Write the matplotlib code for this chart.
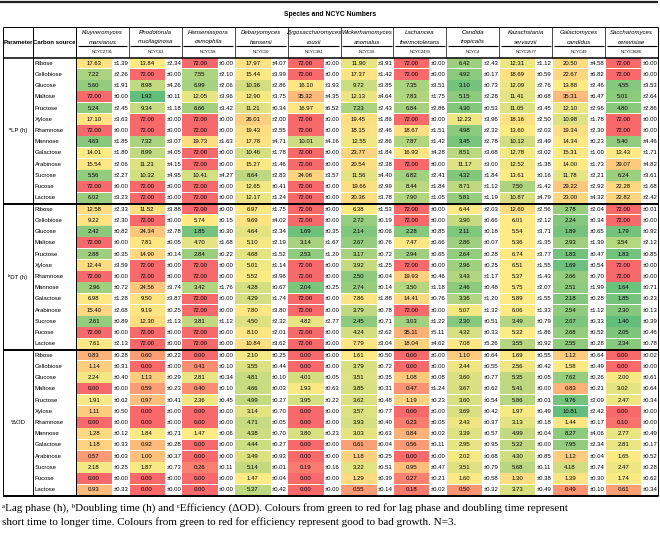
import numpy as np
import matplotlib
matplotlib.use('Agg')
import matplotlib.pyplot as plt
from matplotlib.patches import Rectangle
from matplotlib import font_manager

species = [('Kluyveromyces', 'marxianus'), ('Rhodotorula', 'mucilaginosa'),
           ('Hanseniaspora', 'osmophila'), ('Debaryomyces', 'hansenii'),
           ('Zygosaccharomyces', 'rouxii'), ('Wickerhamomyces', 'anomalus'),
           ('Lachancea', 'thermotolerans'), ('Candida', 'tropicalis'),
           ('Kazachstania', 'servazzii'), ('Galactomyces', 'candidus'),
           ('Saccharomyces', 'cerevisiae')]
ncyc = ['NCYC2791', 'NCYC63', 'NCYC58', 'NCYC10', 'NCYC381', 'NCYC16',
        'NCYC2433', 'NCYC4', 'NCYC2577', 'NCYC49', 'NCYC3686']
sugars = ['Ribose', 'Cellobiose', 'Glucose', 'Maltose', 'Fructose', 'Xylose',
          'Rhamnose', 'Mannose', 'Galactose', 'Arabinose', 'Sucrose', 'Fucose',
          'Lactose']
params = ['\u1d43LP (h)', '\u1d47DT (h)', '\u1d9c\u0394OD']

# lag phase (h)
LP_mean = [
    [17.63, 13.84, 72.00, 17.97, 72.00, 11.90, 72.00, 6.42, 12.31, 20.50, 72.00],
    [7.22, 72.00, 7.55, 15.44, 72.00, 17.37, 72.00, 4.92, 18.69, 22.67, 72.00],
    [5.60, 8.98, 6.99, 10.36, 16.10, 9.72, 7.35, 3.10, 12.09, 13.88, 4.55],
    [72.00, 1.92, 12.05, 12.90, 35.32, 12.13, 7.83, 5.15, 11.41, 35.31, 5.01],
    [5.24, 9.34, 6.66, 11.21, 16.97, 7.23, 6.84, 4.30, 11.05, 12.10, 4.80],
    [17.10, 72.00, 72.00, 26.01, 72.00, 19.45, 72.00, 12.23, 18.16, 10.98, 72.00],
    [72.00, 72.00, 72.00, 19.43, 72.00, 18.15, 18.67, 4.98, 13.60, 19.34, 72.00],
    [4.63, 7.32, 19.73, 17.78, 10.01, 12.55, 7.87, 3.45, 10.12, 14.34, 5.40],
    [14.01, 8.99, 72.00, 10.46, 72.00, 23.77, 16.93, 8.51, 12.78, 15.31, 13.43],
    [15.54, 11.23, 72.00, 15.27, 72.00, 20.54, 72.00, 11.17, 12.52, 14.00, 29.07],
    [5.56, 10.32, 10.41, 8.64, 24.06, 11.56, 6.82, 4.32, 13.61, 11.78, 6.24],
    [72.00, 72.00, 72.00, 12.65, 72.00, 19.66, 8.44, 8.71, 7.50, 29.22, 22.28],
    [6.02, 72.00, 72.00, 12.17, 72.00, 20.36, 7.90, 5.81, 10.87, 23.00, 22.82],
]
LP_sd = [
    [1.39, 2.34, 0.00, 4.07, 0.00, 3.91, 0.00, 2.43, 1.12, 4.58, 0.00],
    [2.26, 0.00, 2.10, 3.99, 0.00, 1.42, 0.00, 0.17, 0.59, 6.82, 0.00],
    [1.91, 4.26, 2.06, 2.86, 3.93, 3.85, 3.51, 0.73, 2.76, 2.46, 3.53],
    [0.00, 0.11, 3.96, 3.75, 4.35, 4.64, 1.75, 2.28, 0.68, 6.47, 2.64],
    [2.45, 1.18, 3.42, 0.34, 6.52, 2.43, 2.86, 0.53, 3.45, 2.96, 2.86],
    [3.63, 0.00, 0.00, 2.00, 0.00, 1.86, 0.00, 3.96, 2.50, 1.78, 0.00],
    [0.00, 0.00, 0.00, 2.55, 0.00, 2.46, 1.51, 2.32, 2.02, 2.30, 0.00],
    [1.85, 3.07, 1.63, 4.71, 4.16, 2.86, 1.42, 2.78, 3.49, 0.23, 4.46],
    [1.80, 4.05, 0.00, 1.78, 0.00, 1.84, 4.28, 3.68, 3.02, 1.00, 1.71],
    [2.06, 4.15, 0.00, 1.46, 0.00, 2.38, 0.00, 3.00, 1.38, 1.73, 4.82],
    [2.27, 4.95, 4.27, 2.83, 3.57, 4.40, 2.41, 1.84, 0.16, 2.21, 3.61],
    [0.00, 0.00, 0.00, 0.41, 0.00, 2.99, 1.84, 1.12, 1.42, 2.92, 1.68],
    [3.23, 0.00, 0.00, 1.24, 0.00, 3.78, 1.05, 1.19, 4.79, 4.32, 2.42],
]
# doubling time (h)
DT_mean = [
    [12.58, 11.52, 72.00, 6.97, 72.00, 6.38, 72.00, 6.44, 12.60, 2.78, 72.00],
    [9.22, 72.00, 5.74, 9.69, 72.00, 2.72, 72.00, 3.90, 6.01, 2.24, 72.00],
    [2.42, 24.34, 1.85, 4.64, 1.69, 2.14, 2.28, 2.11, 5.54, 1.89, 1.79],
    [72.00, 7.81, 4.70, 5.10, 3.14, 2.67, 7.47, 2.86, 5.36, 2.93, 3.54],
    [2.88, 14.90, 2.84, 4.68, 2.53, 3.17, 2.94, 2.64, 6.74, 1.83, 1.83],
    [12.44, 72.00, 72.00, 5.01, 72.00, 3.92, 72.00, 2.96, 6.51, 1.69, 72.00],
    [72.00, 72.00, 72.00, 5.52, 72.00, 2.50, 19.93, 3.43, 5.37, 2.66, 72.00],
    [2.96, 24.56, 3.42, 4.28, 2.04, 2.74, 3.50, 2.46, 5.75, 2.51, 1.64],
    [6.98, 9.50, 72.00, 4.29, 72.00, 7.86, 14.41, 3.36, 5.89, 2.18, 1.85],
    [15.40, 9.19, 72.00, 7.80, 72.00, 3.79, 72.00, 5.07, 6.06, 2.54, 2.30],
    [2.61, 12.30, 3.81, 4.50, 4.82, 2.45, 3.03, 2.30, 3.49, 2.07, 1.40],
    [72.00, 72.00, 72.00, 8.10, 72.00, 4.24, 35.11, 4.32, 5.32, 2.68, 2.05],
    [7.61, 72.00, 72.00, 10.84, 72.00, 7.79, 18.04, 7.08, 3.55, 2.55, 2.34],
]
DT_sd = [
    [2.33, 3.88, 0.00, 1.75, 0.00, 1.53, 0.00, 2.03, 2.56, 2.04, 0.01],
    [2.30, 0.00, 0.15, 4.02, 0.00, 0.19, 0.00, 0.66, 2.12, 0.34, 0.00],
    [0.82, 2.78, 0.30, 2.34, 0.35, 0.06, 0.85, 0.18, 3.71, 0.65, 0.92],
    [0.00, 0.05, 1.68, 2.19, 1.67, 0.76, 0.66, 0.07, 1.35, 1.39, 2.12],
    [0.35, 0.14, 0.22, 1.52, 1.20, 0.72, 0.65, 0.28, 3.77, 0.47, 0.85],
    [3.59, 0.00, 0.00, 1.14, 0.00, 1.25, 0.00, 0.25, 1.55, 0.54, 0.00],
    [0.00, 0.00, 0.00, 3.96, 0.00, 0.04, 0.46, 1.17, 1.43, 0.70, 0.00],
    [0.72, 3.74, 1.76, 0.67, 0.25, 0.14, 1.18, 0.48, 2.07, 1.99, 0.71],
    [1.28, 3.87, 0.00, 1.74, 0.00, 1.88, 0.76, 1.20, 1.55, 0.28, 0.23],
    [2.68, 0.25, 0.00, 3.80, 0.00, 0.78, 0.00, 1.32, 1.33, 1.12, 0.13],
    [0.89, 1.13, 1.12, 2.32, 2.77, 0.71, 1.22, 0.51, 0.79, 0.33, 0.39],
    [0.00, 0.00, 0.00, 2.01, 0.00, 2.62, 5.11, 0.33, 1.86, 0.52, 0.46],
    [2.13, 0.00, 0.00, 3.62, 0.00, 3.04, 4.62, 5.26, 0.92, 0.28, 0.78],
]
# efficiency (delta OD)
OD_mean = [
    [0.83, 0.60, 0.00, 2.10, 0.00, 1.61, 0.00, 1.10, 1.69, 1.12, 0.00],
    [1.14, 0.00, 0.41, 3.55, 0.00, 3.79, 0.00, 2.44, 2.56, 1.58, 0.00],
    [2.24, 1.13, 2.81, 4.81, 4.01, 3.51, 1.08, 3.60, 5.35, 7.62, 2.00],
    [0.00, 0.59, 0.40, 4.66, 1.93, 3.85, 0.47, 3.67, 5.41, 0.83, 3.02],
    [1.91, 0.97, 2.36, 4.99, 3.95, 3.62, 1.19, 3.60, 5.86, 9.76, 2.47],
    [1.11, 0.00, 0.00, 3.14, 0.00, 3.57, 0.00, 3.69, 1.97, 10.81, 0.00],
    [0.00, 0.00, 0.00, 4.71, 0.00, 3.93, 0.23, 2.43, 3.13, 1.44, 0.10],
    [1.28, 1.84, 1.47, 4.38, 3.80, 3.03, 0.84, 3.39, 4.99, 8.27, 2.77],
    [1.18, 0.92, 0.00, 4.44, 0.00, 0.61, 0.56, 2.95, 5.32, 7.95, 2.81],
    [0.57, 1.00, 0.00, 3.49, 0.00, 1.18, 0.00, 2.02, 4.30, 1.12, 1.65],
    [2.18, 1.87, 0.26, 5.14, 0.19, 3.22, 0.95, 3.51, 5.68, 4.18, 2.47],
    [0.00, 0.00, 0.00, 1.47, 0.00, 1.29, 0.27, 1.60, 1.30, 1.39, 1.74],
    [0.93, 0.00, 0.00, 5.37, 0.00, 0.55, 0.18, 0.50, 3.73, 0.49, 0.61],
]
OD_sd = [
    [0.28, 0.22, 0.00, 0.25, 0.00, 0.50, 0.00, 0.64, 0.55, 0.64, 0.02],
    [0.31, 0.00, 0.10, 0.44, 0.00, 0.72, 0.00, 0.55, 0.42, 0.49, 0.00],
    [0.40, 0.29, 0.34, 0.10, 0.05, 0.35, 0.08, 0.77, 0.05, 0.26, 0.61],
    [0.00, 0.23, 0.10, 0.03, 0.63, 0.31, 1.24, 0.62, 0.00, 0.21, 0.64],
    [0.62, 0.41, 0.45, 0.27, 0.22, 0.48, 0.23, 0.54, 0.01, 2.09, 0.34],
    [0.50, 0.00, 0.00, 0.70, 0.00, 0.77, 0.00, 0.42, 0.49, 2.42, 0.00],
    [0.00, 0.00, 0.00, 0.05, 0.00, 0.40, 0.05, 0.37, 0.18, 0.17, 0.00],
    [0.12, 0.71, 0.06, 0.70, 0.23, 0.63, 0.02, 0.57, 0.04, 4.06, 0.49],
    [0.33, 0.28, 0.00, 0.27, 0.00, 0.04, 0.11, 0.95, 0.00, 2.34, 0.17],
    [0.03, 0.37, 0.00, 0.93, 0.00, 0.25, 0.00, 0.68, 0.85, 0.04, 0.52],
    [0.25, 0.73, 0.11, 0.01, 0.16, 0.51, 0.47, 0.79, 0.11, 0.74, 0.28],
    [0.00, 0.00, 0.00, 0.04, 0.00, 0.39, 0.21, 0.58, 0.38, 0.30, 0.62],
    [0.33, 0.00, 0.00, 0.42, 0.00, 0.14, 0.02, 0.32, 0.49, 0.10, 0.34],
]

caption = ['\u1d43Lag phase (h), \u1d47Doubling time (h) and \u1d9cEfficiency (\u0394OD). '
           'Colours from green to red for lag phase and doubling time represent',
           'short time to longer time. Colours from green to red for efficiency '
           'represent good to bad growth. N=3.']

GREEN = np.array([99, 190, 123]) / 255.
YELLOW = np.array([255, 235, 132]) / 255.
RED = np.array([248, 105, 107]) / 255.


def scale_colour(v, lo, mid, hi, low_good):
    # excel style 3 colour scale, midpoint at the 50th percentile
    a, b = (GREEN, RED) if low_good else (RED, GREEN)
    if v <= mid:
        t = 0.0 if mid == lo else (v - lo) / (mid - lo)
        return a + t * (YELLOW - a)
    t = 0.0 if hi == mid else (v - mid) / (hi - mid)
    return YELLOW + t * (b - YELLOW)


def draw_table():

    installed = set(f.name for f in font_manager.fontManager.ttflist)
    if 'Liberation Sans Narrow' in installed:
        narrow, fs = 'Liberation Sans Narrow', 5.0
    else:
        narrow, fs = 'Liberation Sans', 4.3
    fam = [narrow, 'DejaVu Sans']

    fig = plt.figure(figsize=(6.6, 5.36), dpi=100)
    ax = fig.add_axes([0, 0, 1, 1])
    ax.set_xlim(0, 660)
    ax.set_ylim(536, 0)
    ax.axis('off')

    x_left, x_param, x_carb, x_right = 2.5, 33.3, 76.0, 658.0
    sp_w = (x_right - x_carb) / len(species)
    mean_w = 36.0
    y_head, y_name, y_data, y_end = 27.0, 46.3, 57.5, 495.5
    row_h = (y_end - y_data) / (3 * len(sugars))

    sections = [(LP_mean, LP_sd, True), (DT_mean, DT_sd, True), (OD_mean, OD_sd, False)]

    for s, (means, sds, low_good) in enumerate(sections):
        vals = np.array(means)
        lo, mid, hi = vals.min(), np.percentile(vals, 50), vals.max()
        y0 = y_data + s * len(sugars) * row_h
        ax.text((x_left + x_param) / 2, y0 + len(sugars) * row_h / 2, params[s],
                ha='center', va='center', fontsize=fs, family=fam)
        for i, sugar in enumerate(sugars):
            y = y0 + i * row_h
            yc = y + row_h / 2
            ax.text(x_param + 1.2, yc, sugar, ha='left', va='center',
                    fontsize=fs, family=fam)
            for j in range(len(species)):
                sx = x_carb + j * sp_w
                col = scale_colour(means[i][j], lo, mid, hi, low_good)
                ax.add_patch(Rectangle((sx + 0.6, y + 0.3), mean_w - 0.6, row_h - 0.6,
                                       facecolor=col, edgecolor='none'))
                ax.text(sx + mean_w / 2, yc, '%.2f' % means[i][j], ha='center',
                        va='center', fontsize=fs, family=fam)
                ax.text(sx + mean_w + 1.5, yc, '\u00b1%.2f' % sds[i][j], ha='left',
                        va='center', fontsize=fs, family=fam)

    # header
    ax.text(330, 15, 'Species and NCYC Numbers', ha='center', va='center',
            fontsize=fs + 0.6, weight='bold', family=fam)
    ax.text((x_left + x_param) / 2, 43, 'Parameter', ha='center', va='center',
            fontsize=fs, weight='bold', family=fam)
    ax.text((x_param + x_carb) / 2, 43, 'Carbon source', ha='center', va='center',
            fontsize=fs, weight='bold', family=fam)
    for j, (genus, epithet) in enumerate(species):
        cx = x_carb + (j + 0.5) * sp_w
        ax.text(cx, 32.7, genus, ha='center', va='center', fontsize=fs,
                style='italic', family=fam)
        ax.text(cx, 42.0, epithet, ha='center', va='center', fontsize=fs,
                style='italic', family=fam)
        ax.text(cx, 51.8, ncyc[j], ha='center', va='center', fontsize=fs - 1.3,
                family=fam)
        ax.hlines(y_name, x_carb + j * sp_w + 1.5, x_carb + (j + 1) * sp_w - 1.5,
                  color='k', lw=0.8)

    # grid lines
    ax.hlines(1.5, 0, x_right, color='#222222', lw=1.6)
    ax.hlines(y_head, x_left, x_right, color='k', lw=0.7)
    ax.hlines(y_data, x_left, x_right, color='k', lw=1.1)
    for s in range(1, 3):
        ax.hlines(y_data + s * len(sugars) * row_h, x_left, x_right, color='k', lw=1.4)
    ax.hlines(y_end, x_left, x_right, color='k', lw=1.4)
    for x in [x_left, x_param, x_carb, x_right]:
        ax.vlines(x, y_head, y_end, color='k', lw=0.7)
    for j in range(1, len(species)):
        ax.vlines(x_carb + j * sp_w, y_head, y_data, color='k', lw=0.5)

    # footnote
    for k, line in enumerate(caption):
        ax.text(2, 508 + k * 14, line, ha='left', va='center', fontsize=8.0,
                family=['Liberation Serif', 'DejaVu Serif'])

    fig.savefig('out.png', dpi=100)


if __name__ == "__main__":
    draw_table()
